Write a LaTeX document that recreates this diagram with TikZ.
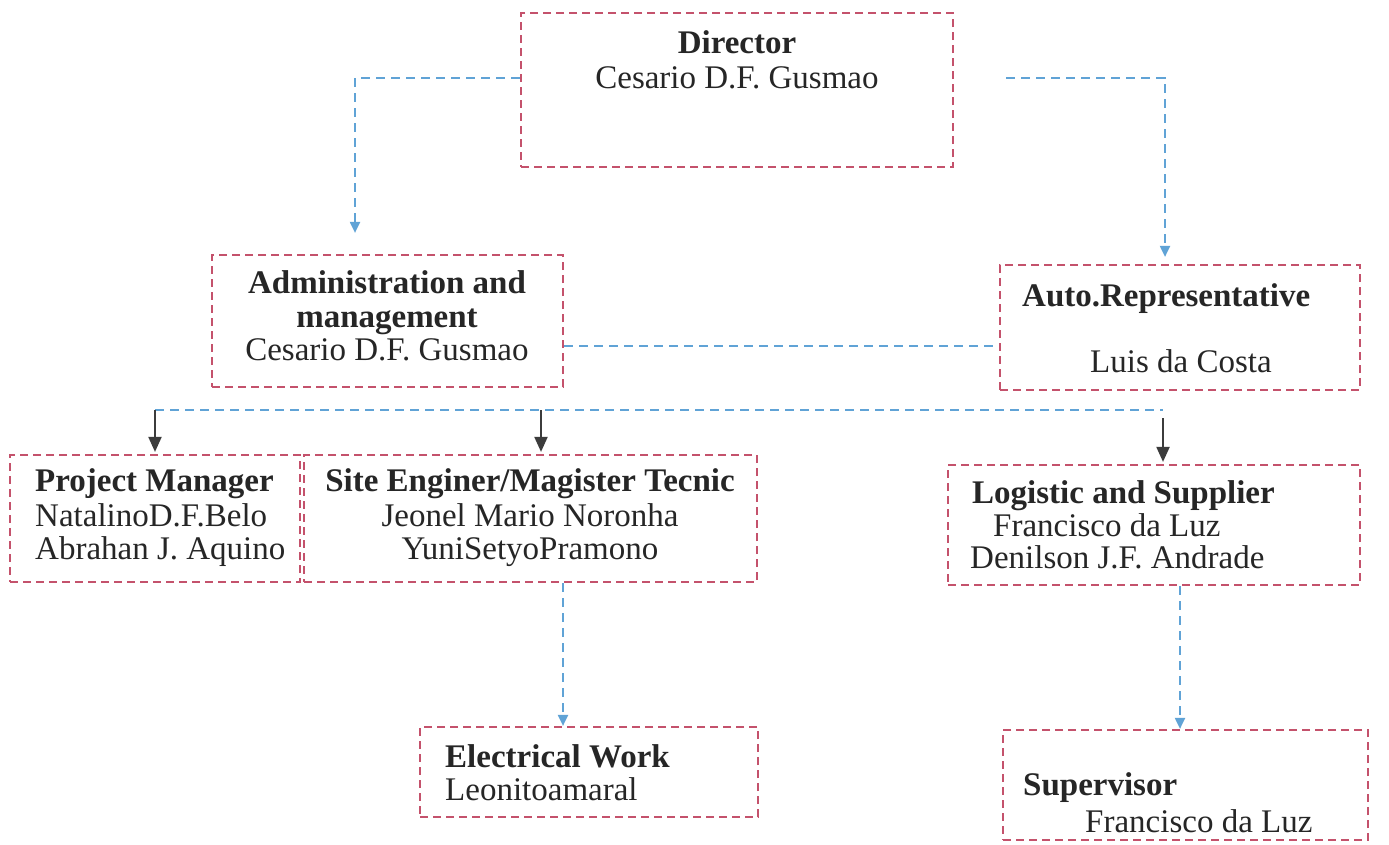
\documentclass[tikz,border=0pt]{standalone}
\usepackage{fontspec}
\setmainfont{Liberation Serif}
\usetikzlibrary{arrows.meta}
\definecolor{boxred}{RGB}{196,82,108}
\definecolor{linkblue}{RGB}{96,163,214}
\definecolor{arrowgray}{RGB}{60,60,60}
\tikzset{
  unitbox/.style={draw=boxred, line width=2.2pt, dash pattern=on 8pt off 5pt, inner sep=0pt, fill=none},
  txt/.style={inner sep=0pt, anchor=base, font=\fontsize{33}{35}\selectfont, text=black!85},
  btxt/.style={txt, font=\fontsize{33}{35}\selectfont\bfseries},
  bluelink/.style={draw=linkblue, line width=2pt, dash pattern=on 9pt off 6pt},
  bluearrow/.style={bluelink, -{Triangle[length=11pt,width=10pt,fill=linkblue]}},
  grayarrow/.style={draw=arrowgray, line width=2pt, -{Triangle[length=15pt,width=13pt,fill=arrowgray]}}
}
\begin{document}
\begin{tikzpicture}[x=1pt,y=-1pt]
\useasboundingbox (0,0) rectangle (1389,844);
\fill[white] (0,0) rectangle (1389,844);

% boxes
\node[unitbox, minimum width=432pt, minimum height=154pt] (dir) at (737,90) {};
\node[unitbox, minimum width=351pt, minimum height=132pt] (adm) at (387.5,321) {};
\node[unitbox, minimum width=360pt, minimum height=125pt] (auto) at (1180,327.5) {};
\node[unitbox, minimum width=290pt, minimum height=127pt] (pm) at (155,518.5) {};
\node[unitbox, minimum width=453pt, minimum height=127pt] (site) at (530.5,518.5) {};
\node[unitbox, minimum width=412pt, minimum height=120pt] (log) at (1154,525) {};
\node[unitbox, minimum width=338pt, minimum height=90pt] (elec) at (589,772) {};
\node[unitbox, minimum width=365pt, minimum height=110pt] (sup) at (1185.5,785) {};

% texts (baselines)
\node[btxt] (dirT) at (737,53) {Director};
\node[txt] (dirN) at (737,88) {Cesario D.F. Gusmao};

\node[btxt] (admT1) at (387,293) {Administration and};
\node[btxt] (admT2) at (387,327) {management};
\node[txt] (admN) at (387,360) {Cesario D.F. Gusmao};

\node[btxt, anchor=base west] (autoT) at (1022,306) {Auto.Representative};
\node[txt, anchor=base west] (autoN) at (1090,372) {Luis da Costa};

\node[btxt, anchor=base west] (pmT) at (35,491) {Project Manager};
\node[txt, anchor=base west] (pmN1) at (35,526) {NatalinoD.F.Belo};
\node[txt, anchor=base west] (pmN2) at (35,559) {Abrahan J. Aquino};

\node[btxt] (siteT) at (530,491) {Site Enginer/Magister Tecnic};
\node[txt] (siteN1) at (530,526) {Jeonel Mario Noronha};
\node[txt] (siteN2) at (530,559) {YuniSetyoPramono};

\node[btxt, anchor=base west] (logT) at (972,503) {Logistic and Supplier};
\node[txt, anchor=base west] (logN1) at (993,536) {Francisco da Luz};
\node[txt, anchor=base west] (logN2) at (970,568) {Denilson J.F. Andrade};

\node[btxt, anchor=base west] (elecT) at (445,767) {Electrical Work};
\node[txt, anchor=base west] (elecN) at (445,800) {Leonitoamaral};

\node[btxt, anchor=base west] (supT) at (1023,795) {Supervisor};
\node[txt, anchor=base west] (supN) at (1085,832) {Francisco da Luz};

% connectors
\draw[bluearrow, shorten >=21pt] ([yshift=12pt]dir.west) -| ([xshift=-32.5pt]adm.north);
\draw[bluearrow, shorten >=7pt] ([xshift=52pt,yshift=12pt]dir.east) -| ([xshift=-15pt]auto.north);
\coordinate (hl) at ([yshift=-25pt]adm.east);
\draw[bluelink] (hl) -- (hl -| auto.west);

\coordinate (busL) at (155,410);
\coordinate (busR) at (1163,410);
\draw[bluelink] (busL) -- (busR);
\draw[grayarrow, shorten >=2pt] (busL) -- (busL |- pm.north);
\coordinate (busM) at (541,410);
\draw[grayarrow, shorten >=2pt] (busM) -- (busM |- site.north);
\coordinate (busR2) at (1163,418);
\draw[grayarrow, shorten >=2pt] (busR2) -- (busR2 |- log.north);

\coordinate (s1) at ([xshift=32.5pt]site.south);
\draw[bluearrow] (s1) -- (s1 |- elec.north);
\coordinate (s2) at ([xshift=26pt]log.south);
\draw[bluearrow] (s2) -- (s2 |- sup.north);
\end{tikzpicture}
\end{document}
